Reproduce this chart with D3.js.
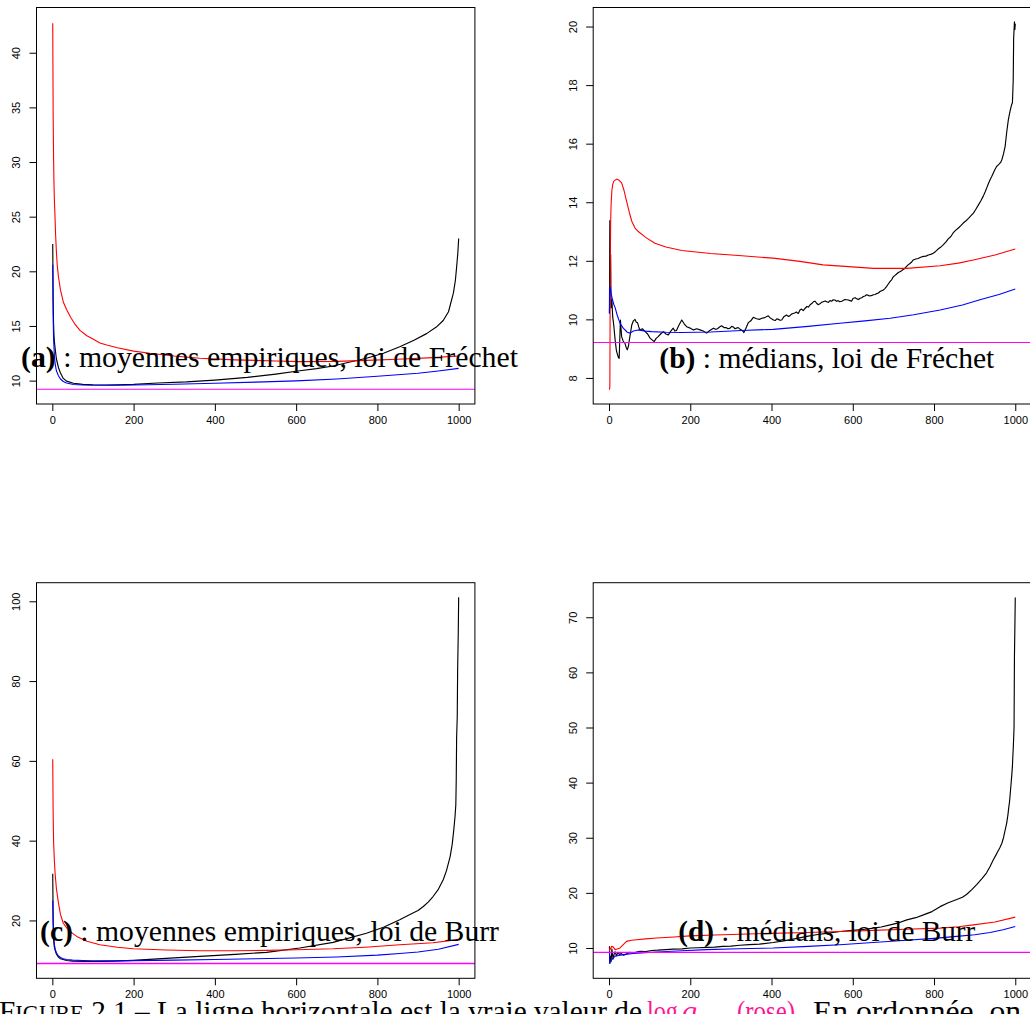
<!DOCTYPE html>
<html><head><meta charset="utf-8">
<script src="https://cdn.jsdelivr.net/npm/d3@7"></script>
<style>body{margin:0;background:#fff;overflow:hidden}</style>
</head><body>
<svg id="c" width="1030" height="1014" xmlns="http://www.w3.org/2000/svg"></svg>
<script>
// ---------- data ----------
const xTicks = [0, 200, 400, 600, 800, 1000];
const trueValue = 9.21; // log q (pink horizontal line)

const aTicks = [10, 15, 20, 25, 30, 35, 40];
const bTicks = [8, 10, 12, 14, 16, 18, 20];
const cTicks = [20, 40, 60, 80, 100];
const dTicks = [10, 20, 30, 40, 50, 60, 70];

// (a) moyennes empiriques, Fréchet
const aRedX = [1,2,3,4,5,6,8,10,12,15,20,27,35,45,55,68,85,100,117,134,160,200,240,300,363,450,550,609,700,773,850,937,1000];
const aRedY = [42.7,34.5,30.5,28.2,26.6,25.6,23.4,21.8,20.6,19.5,18.3,17.2,16.5,15.8,15.2,14.6,14.1,13.8,13.45,13.26,13.0,12.7,12.5,12.25,12.05,11.9,11.8,11.74,11.76,11.85,11.95,12.1,12.25];
const aBlackX = [1,2,3,4,5,7,10,15,20,27,35,52,75,100,130,160,200,260,330,400,480,550,609,650,691,730,773,815,855,890,921,945,962,975,987,992,995,998,1000];
const aBlackY = [22.5,17.5,15.2,14.2,13.6,12.9,12.0,11.2,10.7,10.2,9.95,9.76,9.66,9.62,9.6,9.61,9.65,9.78,9.88,10.05,10.3,10.6,10.9,11.1,11.34,11.68,12.05,12.5,13.1,13.7,14.3,14.9,15.5,16.3,18.0,19.2,20.4,21.7,23.0];
const aBlueX = [1,2,3,5,7,10,15,20,27,35,52,75,100,150,200,300,400,500,600,700,800,900,950,1000];
const aBlueY = [20.6,16.0,13.9,12.3,11.5,10.9,10.45,10.15,9.92,9.78,9.65,9.6,9.58,9.58,9.6,9.67,9.76,9.86,9.98,10.15,10.4,10.68,10.88,11.12];

// (b) médians, Fréchet
const bRedX = [1,2,3,4,5,7,9,12,19,25,31,37,43,50,56,64,72,90,113,140,179,250,327,404,470,527,590,651,733,815,860,897,950,1000];
const bRedY = [7.6,7.7,11.5,13.3,13.9,14.4,14.6,14.72,14.79,14.75,14.66,14.4,14.05,13.65,13.35,13.12,13.0,12.8,12.6,12.47,12.35,12.25,12.17,12.09,11.98,11.86,11.8,11.74,11.74,11.83,11.92,12.03,12.2,12.4];
const bBlueX = [1,2,3,5,8,12,15,20,27,35,45,52,60,72,90,105,140,179,250,327,404,490,568,630,692,750,815,870,913,960,1000];
const bBlueY = [10.2,11.1,11.1,10.9,10.7,10.5,10.4,10.15,9.87,9.7,9.56,9.53,9.6,9.64,9.6,9.58,9.56,9.55,9.57,9.62,9.66,9.76,9.87,9.95,10.04,10.16,10.32,10.49,10.67,10.85,11.04];
const bBlackX = [1,2,3,4,5,7,9,12,15,18,20,23,25,28,31,35,39,42,45,48,50,53,56,60,64,67,70,73,76,82,89,95,101,106,111,116,121,127,134,140,146,152,158,162,166,172,179,185,191,200,208,216,224,232,240,248,257,262,267,272,277,283,288,293,298,302,306,310,314,318,323,328,332,337,343,349,355,363,371,376,381,386,392,396,400,405,409,413,417,421,425,431,437,441,445,449,453,457,461,466,470,474,478,483,487,491,495,499,503,507,511,515,519,523,527,532,536,540,544,548,552,556,560,564,568,573,577,581,585,589,593,597,601,606,610,614,618,622,626,630,634,638,642,647,651,655,659,663,667,671,675,679,683,687,692,696,700,704,708,712,716,720,724,728,732,736,740,745,749,755,761,767,774,780,786,792,798,804,810,816,823,829,835,841,847,853,860,866,872,878,885,891,897,903,909,915,921,926,930,934,938,942,946,950,954,957,960,964,967,971,975,979,983,987,991,993,995,996,998,999,1000];
const bBlackY = [10.2,13.37,11.5,12.2,10.4,10.67,10.1,9.75,9.3,8.95,8.84,8.7,8.67,9.98,9.41,9.25,9.19,9.05,8.96,9.1,9.3,9.55,9.81,9.95,10.0,9.9,9.89,9.75,9.64,9.68,9.58,9.5,9.36,9.3,9.24,9.35,9.41,9.5,9.58,9.5,9.47,9.6,9.7,9.6,9.62,9.8,9.98,9.85,9.75,9.7,9.64,9.68,9.64,9.6,9.53,9.62,9.7,9.66,9.68,9.74,9.78,9.72,9.72,9.68,9.7,9.76,9.74,9.68,9.7,9.72,9.66,9.62,9.55,9.7,9.89,9.95,10.07,10.02,10.0,10.04,10.05,10.08,10.12,10.06,10.02,9.98,9.96,10.02,10.0,9.97,9.98,10.1,10.15,10.1,10.12,10.18,10.2,10.22,10.25,10.2,10.32,10.35,10.3,10.38,10.44,10.42,10.5,10.54,10.6,10.62,10.55,10.5,10.53,10.58,10.6,10.63,10.6,10.58,10.64,10.62,10.67,10.66,10.62,10.64,10.6,10.62,10.65,10.68,10.67,10.66,10.64,10.62,10.72,10.74,10.7,10.68,10.72,10.74,10.78,10.8,10.84,10.82,10.8,10.82,10.84,10.85,10.88,10.9,10.95,10.98,11.0,11.05,11.12,11.2,11.3,11.36,11.46,11.5,11.55,11.6,11.63,11.66,11.7,11.74,11.8,11.86,11.9,11.96,12.03,12.06,12.08,12.12,12.15,12.16,12.2,12.22,12.26,12.32,12.4,12.46,12.55,12.64,12.75,12.82,12.95,13.04,13.12,13.2,13.29,13.36,13.45,13.54,13.63,13.76,13.9,14.04,14.2,14.36,14.5,14.64,14.77,14.88,15.0,15.12,15.22,15.26,15.3,15.36,15.45,15.65,15.9,16.4,16.82,17.1,17.33,17.4,18.19,19.6,20.16,19.9,20.1];

// (c) moyennes empiriques, Burr
const cRedX = [1,2,3,5,7,10,15,20,27,40,60,85,117,160,199,280,363,450,527,600,691,770,855,937,983,1000];
const cRedY = [60.4,47,40,35,31.5,28,24.4,21.5,19.3,17.5,16,14.8,13.9,13.3,12.9,12.6,12.4,12.4,12.5,12.65,12.9,13.3,13.9,14.4,15.0,15.3];
const cBlackX = [1,2,3,4,5,7,10,15,20,35,50,80,120,150,199,280,363,450,527,609,691,773,815,855,880,900,913,925,937,950,962,970,979,984,988,991,993,994,995,996.5,997.5,999,1000];
const cBlackY = [31.7,20,15.8,14.2,13.3,12.5,11.6,10.8,10.4,9.95,9.8,9.72,9.73,9.8,10.0,10.5,11.0,11.5,12.0,13.1,14.5,16.8,18.3,20.2,21.5,22.5,23.5,24.6,26,27.8,30.2,32.5,36,39,42.7,46,49,55,66,71,83,92,101];
const cBlueX = [1,2,3,5,7,10,15,20,27,35,50,75,100,150,200,300,400,500,600,700,800,855,900,950,1000];
const cBlueY = [25,19.5,16.5,14,12.8,11.9,11.1,10.7,10.4,10.2,10.05,9.95,9.9,9.88,9.92,10.05,10.2,10.4,10.6,10.85,11.3,11.7,12.1,12.8,14.0];

// (d) médians, Burr
const dRedX = [1,2,4,6,10,15,20,27,35,43,55,68,90,117,160,199,260,322,400,487,570,651,730,815,860,897,950,1000];
const dRedY = [9.4,10.0,9.8,10.3,10.2,9.7,9.8,10.0,10.6,11.2,11.4,11.5,11.65,11.8,12.0,12.2,12.35,12.5,12.65,12.8,13.0,13.2,13.4,13.6,13.85,14.2,14.7,15.6];
const dBlueX = [1,2,4,7,10,15,20,35,60,117,180,240,320,404,490,568,650,733,800,856,900,938,970,1000];
const dBlueY = [9.5,7.3,7.7,7.9,8.2,8.5,8.6,8.8,9.0,9.27,9.5,9.7,9.85,10.0,10.3,10.6,11.0,11.4,11.75,12.1,12.4,12.8,13.3,13.9];
const dBlackX = [1,2,3,5,7,10,13,15,18,22,26,30,35,40,45,50,60,70,76,90,105,120,140,158,180,200,220,240,260,280,300,322,345,370,404,430,460,487,510,540,568,600,630,651,670,692,710,733,755,774,795,815,835,856,870,880,893,905,918,929,938,946,952,957,962,967,971,974,977,979,982,984,986,987,989,991,993,994,995,996,997,998,999,1000];
const dBlackY = [10.3,7.2,8.5,7.5,9.8,8.0,9.0,9.3,8.6,9.2,8.8,9.0,8.7,8.8,9.0,9.2,9.1,9.3,9.4,9.35,9.55,9.6,9.7,9.8,9.85,10.0,10.05,10.1,10.15,10.3,10.35,10.5,10.6,10.7,11.0,11.3,11.7,12.1,12.4,12.7,13.0,13.2,13.4,13.6,13.8,14.2,14.5,15.1,15.5,16.0,16.6,17.5,18.2,18.8,19.2,19.7,20.6,21.5,22.6,23.6,24.8,26,26.8,27.5,28.2,29.0,30.0,31,32,32.7,34.2,35.5,36.6,37.5,39.2,41,43,44.7,46.2,48,50,63,68,73.6];

const labelA = ["(a)", " : moyennes empiriques, loi de Fréchet"];
const labelB = ["(b)", " : médians, loi de Fréchet"];
const labelC = ["(c)", " : moyennes empiriques, loi de Burr"];
const labelD = ["(d)", " : médians, loi de Burr"];

// ---------- layout ----------
const svg = d3.select("#c");
const xDomain = [-38.96, 1039.96];
const COLORS = {black: "#000000", red: "#FF0000", blue: "#0000FF", pink: "#FF00FF"};

const panels = [
  {id:"a", box:[36.5, 7.5, 474.9, 404], yDom:[7.86, 44.14], yTicks:aTicks, pinkW:1.1,
   series:[[aBlackX,aBlackY,COLORS.black],[aRedX,aRedY,COLORS.red],[aBlueX,aBlueY,COLORS.blue]],
   label:labelA, lx:21, ly:366.5, lw:497},
  {id:"b", box:[593.2, 7.5, 1031.5, 404], yDom:[7.11, 20.65], yTicks:bTicks, pinkW:1.2,
   series:[[bBlackX,bBlackY,COLORS.black],[bRedX,bRedY,COLORS.red],[bBlueX,bBlueY,COLORS.blue]],
   label:labelB, lx:659.3, ly:368, lw:335},
  {id:"c", box:[36.5, 582.7, 474.9, 978.3], yDom:[5.5, 104.66], yTicks:cTicks, pinkW:1.6,
   series:[[cBlackX,cBlackY,COLORS.black],[cRedX,cRedY,COLORS.red],[cBlueX,cBlueY,COLORS.blue]],
   label:labelC, lx:40, ly:940.7, lw:459},
  {id:"d", box:[593.2, 582.7, 1031.5, 978.3], yDom:[4.5, 76.27], yTicks:dTicks, pinkW:1.4,
   series:[[dBlackX,dBlackY,COLORS.black],[dRedX,dRedY,COLORS.red],[dBlueX,dBlueY,COLORS.blue]],
   label:labelD, lx:678.3, ly:940.7, lw:297}
];

panels.forEach(p => {
  const [x0, y0, x1, y1] = p.box;
  const x = d3.scaleLinear().domain(xDomain).range([x0, x1]);
  const y = d3.scaleLinear().domain(p.yDom).range([y1, y0]);
  const g = svg.append("g");

  g.append("clipPath").attr("id", "clip-" + p.id)
    .append("rect").attr("x", x0).attr("y", y0).attr("width", x1 - x0).attr("height", y1 - y0);

  const plot = g.append("g").attr("clip-path", `url(#clip-${p.id})`);
  const line = d3.line().x(d => x(d[0])).y(d => y(d[1]));
  p.series.forEach(([xs, ys, col]) => {
    plot.append("path").datum(d3.zip(xs, ys))
      .attr("d", line).attr("fill", "none").attr("stroke", col)
      .attr("stroke-width", col === COLORS.black ? 1.15 : 1.1)
      .attr("stroke-linejoin", "round");
  });
  plot.append("line").attr("x1", x0).attr("x2", x1)
    .attr("y1", y(trueValue)).attr("y2", y(trueValue))
    .attr("stroke", COLORS.pink).attr("stroke-width", p.pinkW);

  // box
  g.append("rect").attr("x", x0).attr("y", y0).attr("width", x1 - x0).attr("height", y1 - y0)
    .attr("fill", "none").attr("stroke", "#000").attr("stroke-width", 1);

  // x axis
  const xa = g.append("g").attr("transform", `translate(0,${y1})`)
    .call(d3.axisBottom(x).tickValues(xTicks).tickSize(7).tickPadding(5).tickFormat(d3.format("d")));
  xa.select(".domain").remove();
  xa.selectAll("text").attr("font-family", "Liberation Sans, Arial, sans-serif").attr("font-size", 11).attr("fill", "#000");
  xa.selectAll("line").attr("stroke", "#000");

  // y axis with rotated labels
  const ya = g.append("g").attr("transform", `translate(${x0},0)`)
    .call(d3.axisLeft(y).tickValues(p.yTicks).tickSize(7).tickFormat(d3.format("d")));
  ya.select(".domain").remove();
  ya.selectAll("line").attr("stroke", "#000");
  ya.selectAll("text")
    .attr("x", 0).attr("dy", null).attr("y", 0)
    .attr("transform", "translate(-20.7,0) rotate(-90)")
    .attr("text-anchor", "middle").attr("dominant-baseline", "central")
    .attr("font-family", "Liberation Sans, Arial, sans-serif").attr("font-size", 11).attr("fill", "#000");

  // panel label
  const t = g.append("text").attr("x", p.lx).attr("y", p.ly)
    .attr("font-family", "Liberation Serif, Times New Roman, serif").attr("font-size", 29)
    .attr("fill", "#000").attr("textLength", p.lw).attr("lengthAdjust", "spacingAndGlyphs");
  t.append("tspan").attr("font-weight", "bold").text(p.label[0]);
  t.append("tspan").text(p.label[1]);
});

// caption (cut at the bottom of the picture)
const cap = svg.append("g").attr("font-family", "Liberation Serif, Times New Roman, serif").attr("font-size", 30);
const capY = 1021;
const c1 = cap.append("text").attr("x", -1).attr("y", capY).attr("fill", "#000")
  .attr("textLength", 643).attr("lengthAdjust", "spacingAndGlyphs");
c1.append("tspan").text("F");
c1.append("tspan").attr("font-size", 23).text("IGURE");
c1.append("tspan").text(" 2.1 – La ligne horizontale est la vraie valeur de");
cap.append("text").attr("x", 647).attr("y", capY).attr("fill", "#FF1493")
  .attr("textLength", 31).attr("lengthAdjust", "spacingAndGlyphs").text("log");
cap.append("text").attr("x", 682).attr("y", capY).attr("fill", "#FF1493").attr("font-style", "italic").text("q");
cap.append("text").attr("x", 700).attr("y", capY + 6).attr("fill", "#FF1493").attr("font-size", 20).attr("font-style", "italic").text("α");
cap.append("text").attr("x", 737).attr("y", capY).attr("fill", "#FF1493")
  .attr("textLength", 58).attr("lengthAdjust", "spacingAndGlyphs").text("(rose)");
cap.append("text").attr("x", 796).attr("y", capY).attr("fill", "#000").text(".");
cap.append("text").attr("x", 813).attr("y", capY).attr("fill", "#000")
  .attr("textLength", 230).attr("lengthAdjust", "spacingAndGlyphs").text("En ordonnée, on a");
</script>
</body></html>
